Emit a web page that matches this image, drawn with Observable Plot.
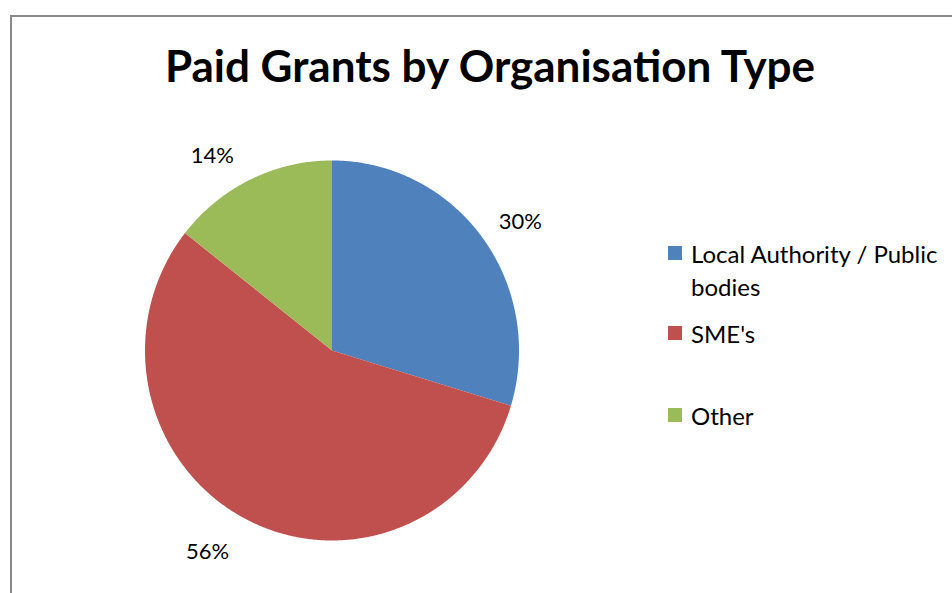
<!DOCTYPE html>
<html>
<head>
<meta charset="utf-8">
<script src="https://cdn.jsdelivr.net/npm/d3@7"></script>
<script src="https://cdn.jsdelivr.net/npm/@observablehq/plot@0.6"></script>
<style>
  html, body { margin: 0; padding: 0; background: #fff; }
  #wrap { position: relative; width: 952px; height: 593px; overflow: hidden; font-family: Lato, "Open Sans", sans-serif; }
  #frame { position: absolute; left: 10px; top: 15px; width: 1000px; height: 700px; border: 2px solid #8a8a8a; box-sizing: border-box; }
  #title { position: absolute; left: 0; width: 980px; top: 40px; text-align: center; font-weight: bold; font-size: 44px; color: #000; line-height: 50px; }
  #chart { position: absolute; left: 0; top: 0; }
  #legend { position: absolute; left: 668px; top: 0; font-size: 24px; color: #000; }
  .item { position: absolute; left: 0; white-space: nowrap; }
  .sw { position: absolute; left: 0; width: 14px; height: 14px; }
  .lbl { position: absolute; left: 23px; line-height: 33px; }
</style>
</head>
<body>
<div id="wrap">
  <div id="frame"></div>
  <div id="chart"></div>
  <div id="title"></div>
  <div id="legend"></div>
</div>
<script>
const title = "Paid Grants by Organisation Type";
const categories = ["Local Authority / Public bodies", "SME's", "Other"];
const legendLines = [["Local Authority / Public", "bodies"], ["SME's"], ["Other"]];
const values = [29.7, 55.9, 14.4];
const colors = ["#4F81BD", "#C0504D", "#9BBB59"];

document.getElementById("title").textContent = title;

const data = categories.map((c, i) => ({cat: c, value: values[i]}));
const arcs = d3.pie().sort(null).value(d => d.value)(data);
const total = d3.sum(values);

// slice polygons computed from pie angles (unit circle, y up)
const pts = [];
for (const a of arcs) {
  pts.push({cat: a.data.cat, x: 0, y: 0});
  const n = Math.max(2, Math.ceil((a.endAngle - a.startAngle) / (Math.PI / 360)));
  for (let k = 0; k <= n; k++) {
    const t = a.startAngle + (a.endAngle - a.startAngle) * k / n;
    pts.push({cat: a.data.cat, x: Math.sin(t), y: Math.cos(t)});
  }
}

const cx = 331.5, cy = 350, rx = 187, ry = 190;
const offX = 38, gapY = 26, halfH = 10;
const labels = arcs.map(a => {
  const m = (a.startAngle + a.endAngle) / 2;
  const s = Math.sin(m), c = Math.cos(m);
  // outside-end placement: edge point plus label box offset
  const ux = s + (Math.sign(s) * offX) / rx;
  const uy = c + (gapY * c + (c < 0 ? -halfH : 0)) / ry;
  return {x: ux, y: uy, text: Math.round(a.data.value / total * 100) + "%"};
});

const plot = Plot.plot({
  width: 952,
  height: 593,
  margin: 0,
  x: {domain: [-1, 1], range: [cx - rx, cx + rx], axis: null},
  y: {domain: [-1, 1], range: [cy + ry, cy - ry], axis: null},
  color: {domain: categories, range: colors},
  style: {background: "transparent"},
  marks: [
    Plot.line(pts, {x: "x", y: "y", z: "cat", fill: "cat", stroke: "none", curve: "linear-closed"}),
    Plot.text(labels, {x: "x", y: "y", text: "text", fontSize: 22, fill: "#000", fontFamily: "Lato, 'Open Sans', sans-serif", textAnchor: "middle", lineAnchor: "middle"})
  ]
});
document.getElementById("chart").appendChild(plot);

// legend
const legendY = [253, 333, 415];
const lg = document.getElementById("legend");
categories.forEach((c, i) => {
  const item = document.createElement("div");
  item.className = "item";
  item.style.top = (legendY[i] - 16.5) + "px";
  const sw = document.createElement("div");
  sw.className = "sw";
  sw.style.background = colors[i];
  sw.style.top = "9.5px";
  const lb = document.createElement("div");
  lb.className = "lbl";
  lb.innerHTML = legendLines[i].map(t => `<div>${t.replace(/&/g,"&amp;")}</div>`).join("");
  item.appendChild(sw);
  item.appendChild(lb);
  lg.appendChild(item);
});
</script>
</body>
</html>
